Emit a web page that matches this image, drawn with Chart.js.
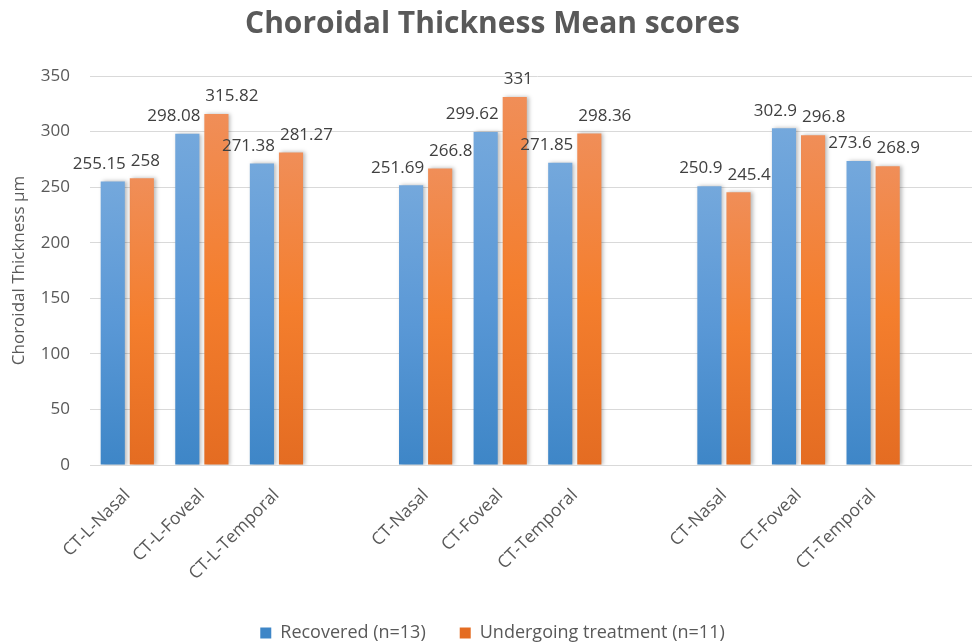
<!DOCTYPE html>
<html>
<head>
<meta charset="utf-8">
<script src="https://cdn.jsdelivr.net/npm/chart.js@4/dist/chart.umd.min.js"></script>
<style>
  html, body { margin: 0; padding: 0; background: #ffffff; overflow: hidden; }
  #wrap { position: relative; width: 992px; height: 644px; }
</style>
</head>
<body>
<div id="wrap"><canvas id="c"></canvas></div>
<script>
const categories = ['CT-L-Nasal', 'CT-L-Foveal', 'CT-L-Temporal', '',
                    'CT-Nasal', 'CT-Foveal', 'CT-Temporal', '',
                    'CT-Nasal', 'CT-Foveal', 'CT-Temporal', ''];
const recovered = [255.15, 298.08, 271.38, null, 251.69, 299.62, 271.85, null, 250.9, 302.9, 273.6, null];
const undergoing = [258, 315.82, 281.27, null, 266.8, 331, 298.36, null, 245.4, 296.8, 268.9, null];
const seriesNames = ['Recovered (n=13)', 'Undergoing treatment (n=11)'];
const yTicks = [0, 50, 100, 150, 200, 250, 300, 350];

const FONT = '"Open Sans", "DejaVu Sans", sans-serif';
const TEXT = '#595959';

function barGradient(stops, solid) {
  return function (ctx) {
    const chart = ctx.chart;
    if (!chart.chartArea || ctx.parsed == null || ctx.parsed.y == null) return solid;
    const ys = chart.scales.y;
    const top = ys.getPixelForValue(ctx.parsed.y);
    const bottom = ys.getPixelForValue(0);
    if (!isFinite(top) || !isFinite(bottom) || top === bottom) return solid;
    const g = chart.ctx.createLinearGradient(0, top, 0, bottom);
    stops.forEach(s => g.addColorStop(s[0], s[1]));
    return g;
  };
}

const shadowPlugin = {
  id: 'barShadow',
  beforeDatasetsDraw(chart) {
    const c = chart.ctx;
    c.save();
    c.shadowColor = 'rgba(0,0,0,0.28)';
    c.shadowBlur = 4;
    c.shadowOffsetX = 2;
    c.shadowOffsetY = 0;
  },
  afterDatasetsDraw(chart) {
    chart.ctx.restore();
  }
};

const valueLabels = {
  id: 'valueLabels',
  afterDatasetsDraw(chart) {
    const c = chart.ctx;
    c.save();
    c.font = '17px ' + FONT;
    c.fillStyle = '#404040';
    c.textBaseline = 'bottom';
    chart.data.datasets.forEach((ds, di) => {
      const meta = chart.getDatasetMeta(di);
      meta.data.forEach((bar, i) => {
        const v = ds.data[i];
        if (v == null) return;
        const half = bar.width / 2;
        if (di === 0) {
          c.textAlign = 'right';
          c.fillText(String(v), bar.x + half + 1, bar.y - 9);
        } else {
          c.textAlign = 'left';
          c.fillText(String(v), bar.x - half + 1, bar.y - 9);
        }
      });
    });
    c.restore();
  }
};

new Chart(document.getElementById('c'), {
  type: 'bar',
  data: {
    labels: categories,
    datasets: [
      {
        label: seriesNames[0],
        data: recovered,
        backgroundColor: barGradient([[0, '#74a8dc'], [0.5, '#5a98d6'], [1, '#3e86c7']], '#5b9bd5'),
        borderWidth: 0,
        categoryPercentage: 0.78,
        barPercentage: 0.83
      },
      {
        label: seriesNames[1],
        data: undergoing,
        backgroundColor: barGradient([[0, '#f08e58'], [0.5, '#f47e2d'], [1, '#e46c22']], '#ed7d31'),
        borderWidth: 0,
        categoryPercentage: 0.78,
        barPercentage: 0.83
      }
    ]
  },
  options: {
    responsive: true,
    maintainAspectRatio: false,
    animation: false,
    layout: { padding: { left: 0, right: 7, top: 6, bottom: -8 } },
    plugins: {
      title: {
        display: true,
        text: 'Choroidal Thickness Mean scores',
        color: TEXT,
        font: { family: FONT, size: 30, weight: 'bold' },
        padding: { top: 0, bottom: 34 }
      },
      legend: {
        position: 'bottom',
        labels: {
          color: TEXT,
          font: { family: FONT, size: 18 },
          boxWidth: 11,
          boxHeight: 11,
          padding: 34
        }
      },
      tooltip: { enabled: false }
    },
    scales: {
      y: {
        min: 0,
        max: 350,
        afterBuildTicks(scale) { scale.ticks = yTicks.map(v => ({ value: v })); },
        afterFit(scale) { scale.width = 90; },
        grid: { color: '#d9d9d9', drawTicks: false },
        border: { display: false },
        ticks: { color: TEXT, font: { family: FONT, size: 17 }, padding: 20 },
        title: {
          display: true,
          text: 'Choroidal Thickness µm',
          color: TEXT,
          font: { family: FONT, size: 17 },
          padding: { top: 9, bottom: 0 }
        }
      },
      x: {
        grid: { display: false, drawTicks: false },
        border: { display: true, color: '#d9d9d9' },
        afterFit(scale) { scale.height = 125; },
        ticks: {
          color: TEXT,
          font: { family: FONT, size: 17.5 },
          minRotation: 45,
          maxRotation: 45,
          autoSkip: false,
          padding: 20
        }
      }
    }
  },
  plugins: [shadowPlugin, valueLabels]
});
</script>
</body>
</html>
